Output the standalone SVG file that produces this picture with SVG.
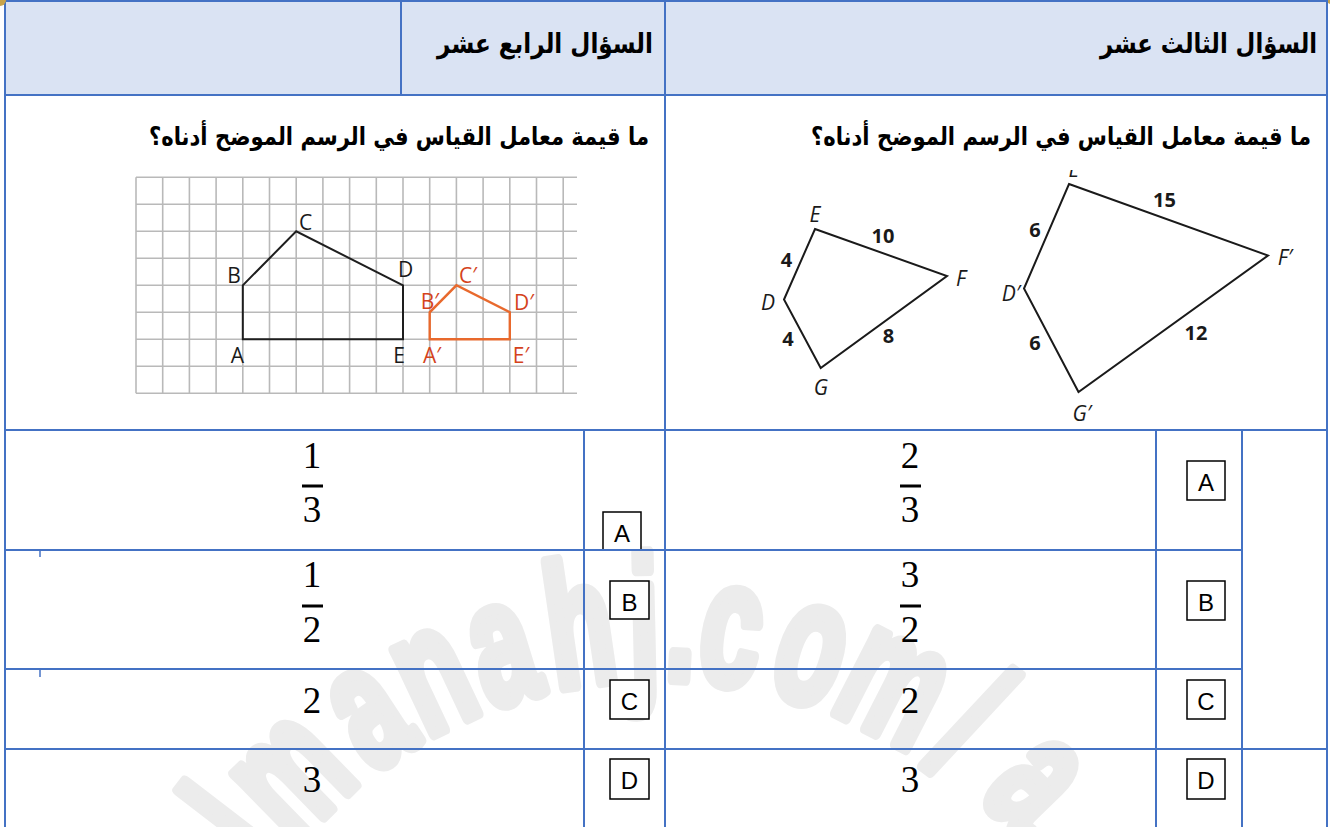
<svg xmlns="http://www.w3.org/2000/svg" width="1330" height="827" viewBox="0 0 1330 827">
<defs>
<style>
.tl{stroke:#4472c4;stroke-width:2;fill:none}
.tick{stroke:#4472c4;stroke-width:1.5}
.ar{font-family:"DejaVu Sans",sans-serif;font-weight:bold;fill:#000;text-anchor:end}
.num{font-family:"Liberation Serif",serif;font-size:37px;fill:#000;text-anchor:middle}
.bar{fill:#000}
.box{fill:#fff;stroke:#000;stroke-width:1.5}
.boxt{font-family:"Liberation Sans",sans-serif;font-size:24px;fill:#000;text-anchor:middle}
.grid{stroke:#b9b9b9;stroke-width:1.6}
.lbl{font-family:"Open Sans","Liberation Sans",sans-serif;font-size:21px;text-anchor:middle}
.blk{fill:#1a1a1a}
.org{fill:#d4431c}
.shapeK{fill:none;stroke:#1e1e1e;stroke-width:2}
.shapeO{fill:none;stroke:#e8692d;stroke-width:2.4}
.quad{fill:none;stroke:#1a1a1a;stroke-width:2}
.it{font-family:"Open Sans","Liberation Sans",sans-serif;font-style:italic;font-size:21px;fill:#1a1a1a;text-anchor:middle}
.bn{font-family:"Open Sans","Liberation Sans",sans-serif;font-weight:bold;font-size:20px;fill:#1a1a1a;text-anchor:middle}
.wm{font-family:"Liberation Sans",sans-serif;font-weight:bold;font-size:175px;fill:#ececec;stroke:#ececec;stroke-width:12;stroke-linejoin:round;text-anchor:middle}
</style>
<clipPath id="figclip"><rect x="740" y="170" width="580" height="260"/></clipPath>
</defs>
<rect x="0" y="0" width="1330" height="827" fill="#fff"/>

<g id="watermark">
<text class="wm" transform="translate(282.3,863.3) rotate(-52.5) scale(0.62,1)">l</text>
<text class="wm" transform="translate(327.1,812.9) rotate(-44.3) scale(0.62,1)">m</text>
<text class="wm" transform="translate(396.7,756.8) rotate(-33.4) scale(0.62,1)">a</text>
<text class="wm" transform="translate(455.4,723.8) rotate(-25.2) scale(0.62,1)">n</text>
<text class="wm" transform="translate(517.5,699.8) rotate(-17.1) scale(0.62,1)">a</text>
<text class="wm" transform="translate(588,683.9) rotate(-8.3) scale(0.62,1)">h</text>
<text class="wm" transform="translate(645.3,679.1) rotate(-1.3) scale(0.62,1)">j</text>
<text class="wm" transform="translate(679,679.6) rotate(2.8) scale(0.62,1)">.</text>
<text class="wm" transform="translate(724,683.9) rotate(8.3) scale(0.62,1)">c</text>
<text class="wm" transform="translate(796.1,700.3) rotate(17.3) scale(0.62,1)">o</text>
<text class="wm" transform="translate(870.5,730.7) rotate(27.1) scale(0.62,1)">m</text>
<text class="wm" transform="translate(934.8,770.4) rotate(36.3) scale(0.62,1)">/</text>
<text class="wm" transform="translate(1000,818) rotate(45.9) scale(0.62,1)">a</text>
</g>

<g id="header">
<rect x="5" y="1" width="1322" height="94" fill="#dae3f3"/>
<text class="ar" x="653" y="53" font-size="27" textLength="216" lengthAdjust="spacingAndGlyphs">السؤال الرابع عشر</text>
<text class="ar" x="1317" y="53" font-size="27" textLength="217" lengthAdjust="spacingAndGlyphs">السؤال الثالث عشر</text>
</g>

<g id="q14-text">
<text class="ar" x="649" y="145" font-size="25" textLength="500" lengthAdjust="spacingAndGlyphs">ما قيمة معامل القياس في الرسم الموضح أدناه؟</text>
</g>
<g id="q13-text">
<text class="ar" x="1311" y="145" font-size="25" textLength="500" lengthAdjust="spacingAndGlyphs">ما قيمة معامل القياس في الرسم الموضح أدناه؟</text>
</g>

<g id="grid-figure">
<g class="grid">
<line x1="136" y1="177.3" x2="577" y2="177.3"/>
<line x1="136" y1="204.3" x2="577" y2="204.3"/>
<line x1="136" y1="231.3" x2="577" y2="231.3"/>
<line x1="136" y1="258.3" x2="577" y2="258.3"/>
<line x1="136" y1="285.3" x2="577" y2="285.3"/>
<line x1="136" y1="312.3" x2="577" y2="312.3"/>
<line x1="136" y1="339.3" x2="577" y2="339.3"/>
<line x1="136" y1="366.3" x2="577" y2="366.3"/>
<line x1="136" y1="393.3" x2="577" y2="393.3"/>
<line x1="136" y1="177.3" x2="136" y2="393.3"/>
<line x1="162.7" y1="177.3" x2="162.7" y2="393.3"/>
<line x1="189.4" y1="177.3" x2="189.4" y2="393.3"/>
<line x1="216.1" y1="177.3" x2="216.1" y2="393.3"/>
<line x1="242.8" y1="177.3" x2="242.8" y2="393.3"/>
<line x1="269.5" y1="177.3" x2="269.5" y2="393.3"/>
<line x1="296.2" y1="177.3" x2="296.2" y2="393.3"/>
<line x1="322.9" y1="177.3" x2="322.9" y2="393.3"/>
<line x1="349.6" y1="177.3" x2="349.6" y2="393.3"/>
<line x1="376.3" y1="177.3" x2="376.3" y2="393.3"/>
<line x1="403" y1="177.3" x2="403" y2="393.3"/>
<line x1="429.7" y1="177.3" x2="429.7" y2="393.3"/>
<line x1="456.4" y1="177.3" x2="456.4" y2="393.3"/>
<line x1="483.1" y1="177.3" x2="483.1" y2="393.3"/>
<line x1="509.8" y1="177.3" x2="509.8" y2="393.3"/>
<line x1="536.5" y1="177.3" x2="536.5" y2="393.3"/>
<line x1="563.2" y1="177.3" x2="563.2" y2="393.3"/>
</g>
<polygon class="shapeK" points="242.8,339.3 242.8,285.3 296.2,231.3 403,285.3 403,339.3"/>
<polygon class="shapeO" points="429.7,339.3 429.7,312.3 456.4,285.3 509.8,312.3 509.8,339.3"/>
<text class="lbl blk" x="305.5" y="230">C</text>
<text class="lbl blk" x="234" y="283">B</text>
<text class="lbl blk" x="405.5" y="277">D</text>
<text class="lbl blk" x="237.5" y="363">A</text>
<text class="lbl blk" x="399" y="363">E</text>
<text class="lbl org" x="430" y="309">B′</text>
<text class="lbl org" x="468" y="283">C′</text>
<text class="lbl org" x="524" y="310">D′</text>
<text class="lbl org" x="432" y="363">A′</text>
<text class="lbl org" x="521" y="363">E′</text>
</g>

<g id="quad-figure" clip-path="url(#figclip)">
<polygon class="quad" points="815,229 947,276 820.7,368 784,299.5"/>
<polygon class="quad" points="1069,184 1268,255.5 1078.5,392 1024,288.5"/>
<text class="it" x="815" y="222">E</text>
<text class="it" x="961" y="286">F</text>
<text class="it" x="768" y="310">D</text>
<text class="it" x="821" y="395">G</text>
<text class="it" x="1074" y="177">E</text>
<text class="it" x="1285" y="265">F′</text>
<text class="it" x="1011" y="301">D′</text>
<text class="it" x="1082" y="421">G′</text>
<text class="bn" x="883" y="243">10</text>
<text class="bn" x="786.5" y="267">4</text>
<text class="bn" x="788" y="346">4</text>
<text class="bn" x="888.5" y="343">8</text>
<text class="bn" x="1164.5" y="207">15</text>
<text class="bn" x="1035" y="237">6</text>
<text class="bn" x="1035" y="350">6</text>
<text class="bn" x="1196" y="340">12</text>
</g>

<g id="q14-answers">
<text class="num" x="312" y="468">1</text>
<rect class="bar" x="302" y="484.5" width="21" height="3"/>
<text class="num" x="312" y="522">3</text>
<text class="num" x="312" y="587">1</text>
<rect class="bar" x="302" y="604.5" width="21" height="3"/>
<text class="num" x="312" y="642">2</text>
<text class="num" x="312" y="713">2</text>
<text class="num" x="312" y="792">3</text>
<rect class="box" x="603" y="512" width="38" height="38"/>
<text class="boxt" x="622" y="542">A</text>
<rect class="box" x="610" y="581" width="39" height="38"/>
<text class="boxt" x="629.5" y="611">B</text>
<rect class="box" x="610" y="680" width="39" height="39"/>
<text class="boxt" x="629.5" y="710">C</text>
<rect class="box" x="610" y="759" width="39" height="40"/>
<text class="boxt" x="629.5" y="789">D</text>
</g>

<g id="q13-answers">
<text class="num" x="910" y="468">2</text>
<rect class="bar" x="900" y="484.5" width="21" height="3"/>
<text class="num" x="910" y="522">3</text>
<text class="num" x="910" y="587">3</text>
<rect class="bar" x="900" y="604.5" width="21" height="3"/>
<text class="num" x="910" y="642">2</text>
<text class="num" x="910" y="713">2</text>
<text class="num" x="910" y="792">3</text>
<rect class="box" x="1187" y="461" width="38" height="39"/>
<text class="boxt" x="1206" y="491">A</text>
<rect class="box" x="1187" y="581" width="38" height="39"/>
<text class="boxt" x="1206" y="611">B</text>
<rect class="box" x="1187" y="680" width="38" height="39"/>
<text class="boxt" x="1206" y="710">C</text>
<rect class="box" x="1187" y="759" width="38" height="40"/>
<text class="boxt" x="1206" y="789">D</text>
</g>

<g id="table-lines">
<line class="tl" x1="5" y1="1" x2="1327" y2="1"/>
<line class="tl" x1="5" y1="0" x2="5" y2="827"/>
<line class="tl" x1="1327" y1="0" x2="1327" y2="827"/>
<line class="tl" x1="5" y1="95" x2="1327" y2="95"/>
<line class="tl" x1="401" y1="1" x2="401" y2="95"/>
<line class="tl" x1="665" y1="0" x2="665" y2="827"/>
<line class="tl" x1="5" y1="430" x2="1327" y2="430"/>
<line class="tl" x1="5" y1="550" x2="665" y2="550"/>
<line class="tl" x1="5" y1="669" x2="665" y2="669"/>
<line class="tl" x1="5" y1="749" x2="665" y2="749"/>
<line class="tl" x1="584" y1="430" x2="584" y2="827"/>
<line class="tl" x1="665" y1="550" x2="1242" y2="550"/>
<line class="tl" x1="665" y1="669" x2="1242" y2="669"/>
<line class="tl" x1="665" y1="749" x2="1327" y2="749"/>
<line class="tl" x1="1156" y1="430" x2="1156" y2="827"/>
<line class="tl" x1="1242" y1="430" x2="1242" y2="827"/>
<line class="tick" x1="40" y1="549" x2="40" y2="557"/>
<line class="tick" x1="40" y1="668" x2="40" y2="677"/>
</g>

<g id="corners">
<path d="M0,0 L6,0 A6,6 0 0 1 0,6 Z" fill="#c9a44a"/>
<path d="M1330,0 L1328,0 L1328,3 L1330,4 Z" fill="#c9a44a"/>
</g>
</svg>
